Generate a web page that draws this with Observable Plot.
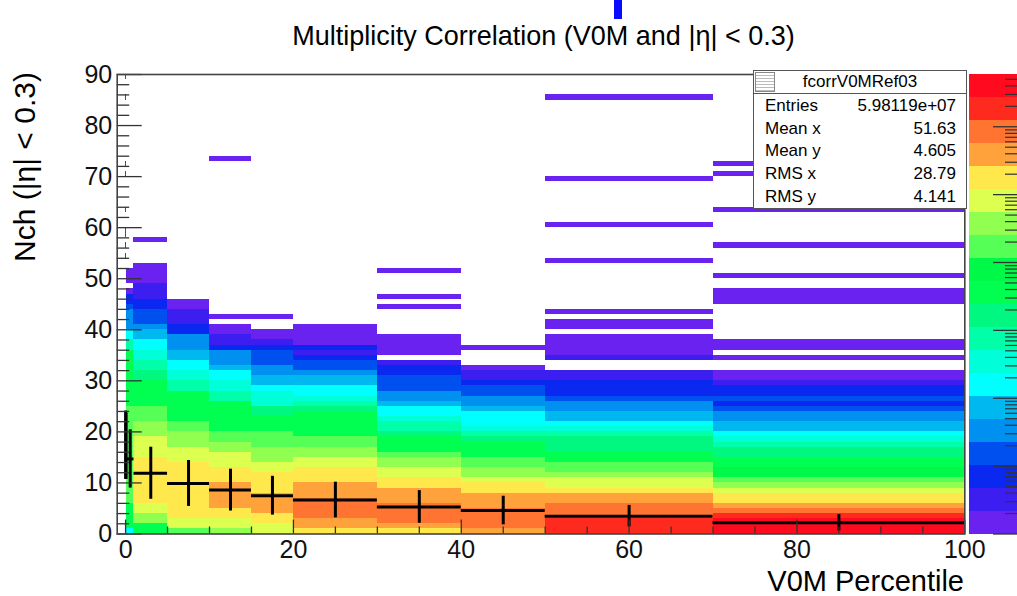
<!DOCTYPE html>
<html><head><meta charset="utf-8">
<script src="https://cdn.jsdelivr.net/npm/d3@7"></script>
<script src="https://cdn.jsdelivr.net/npm/@observablehq/plot@0.6"></script>
<style>
html,body{margin:0;padding:0;background:#fff;overflow:hidden;width:1017px;height:596px;}
#wrap{position:relative;width:1017px;height:596px;overflow:hidden;font-family:"Liberation Sans",Arial,Helvetica,sans-serif;color:#000;}
.abs{position:absolute;white-space:nowrap;}
#stats{position:absolute;left:753px;top:70px;width:212px;height:137px;border:1.5px solid #555;background:#fff;font-size:17px;}
#stats .hdr{position:absolute;left:0;top:0;width:212px;height:22px;border-bottom:1.5px solid #555;text-align:center;line-height:22px;}
#stats .row{position:absolute;left:11px;width:191px;height:22px;line-height:22px;}
#stats .row span{position:absolute;right:0;}
#icon{position:absolute;left:1px;top:1px;width:18px;height:18px;border:1px solid #888;background:repeating-linear-gradient(#fff 0 2px,#bbb 2px 3px);}
</style></head><body><div id="wrap"></div>
<script>
// ---------- data ----------
const xEdges = [0, 0.01, 0.1, 1, 5, 10, 15, 20, 30, 40, 50, 70, 100];
// colour level (0 = lowest / violet ... 19 = highest / red) per Nch bin, from Nch = 0 upward
const col_0_001   = [];
const col_001_01  = [];
const col_01_1    = [6,10,10,10,10,10,12,12,12,12,12,12,12,12,12,12,12,12,12,12,12,12,12,12,12,10,10,10,10,10,10,10,10,10,10,10,8,8,6,6,4,4,4,4,3,2,2,0,null,0,0,0];
const col_1_5     = [10,10,13,13,14,14,15,15,15,15,15,15,15,15,15,14,14,14,14,13,13,13,12,12,12,10,10,10,10,10,9,9,8,8,7,7,6,6,5,5,4,3,3,3,2,2,1,1,1,0,0,0,0];
const col_5_10    = [12,14,14,15,15,15,15,15,15,15,15,15,15,15,14,14,14,13,13,13,12,12,10,10,10,10,10,10,8,8,7,7,6,6,5,5,4,4,4,2,2,1,1,1,0,0];
const col_10_15   = [13,14,14,15,15,16,16,16,16,16,15,15,15,14,14,14,13,13,12,12,10,10,10,10,10,10,8,8,7,7,6,6,5,4,4,4,2,1,1,0,0];
const col_15_20   = [14,14,15,15,16,16,16,16,15,15,15,15,14,14,13,13,13,12,12,12,10,10,10,9,9,7,7,7,6,5,5,4,4,3,3,3,2,1,0,0];
const col_20_30   = [15,16,16,17,17,17,17,16,16,16,15,15,15,14,14,13,13,12,12,10,10,10,10,10,9,8,7,6,6,5,5,4,3,3,2,1,2,0,0,0,0];
const col_30_40   = [15,16,17,17,17,17,16,16,16,15,15,14,14,13,13,12,10,10,10,9,8,8,7,6,6,5,4,4,3,3,3,2,2,1,null,0,0,0,0];
const col_40_50   = [16,17,17,17,17,16,16,16,15,15,14,13,13,12,12,10,10,10,9,8,7,6,6,6,5,4,4,3,3,2,1,1,0];
const col_50_70   = [18,18,18,17,17,17,16,16,15,14,14,13,12,12,10,10,9,9,9,8,7,6,5,5,4,4,3,2,2,2,1,1,null,null,1,0,0,0,0];
const col_70_100  = [19,19,19,18,17,16,15,15,14,13,12,11,11,10,10,9,9,8,7,6,5,5,4,4,3,2,3,2,2,1,0,0,null,null,0,null,0,0];
// isolated single-entry bins (lowest level) above the bulk
const sparse_0_001  = [];
const sparse_001_01 = [54, 56, 58, 59, 63, 70, 72, 85, 89];
const sparse_01_1   = [];
const sparse_1_5    = [57];
const sparse_5_10   = [];
const sparse_10_15  = [42, 73];
const sparse_15_20  = [42];
const sparse_20_30  = [];
const sparse_30_40  = [44, 46, 51];
const sparse_40_50  = [36];
const sparse_50_70  = [40, 41, 43, 53, 60, 69, 85];
const sparse_70_100 = [45, 46, 47, 50, 56, 63, 70, 72];
// profile overlay (mean and spread per V0M bin)
const profMean = [17.4, 17.2, 14.7, 11.9, 9.9, 8.6, 7.5, 6.65, 5.3, 4.6, 3.5, 2.2];
const profRMS  = [6.7, 6.5, 5.7, 5.1, 4.5, 4.1, 3.8, 3.5, 3.2, 2.8, 2.1, 1.6];
const palette = ["#6a22f0","#3c1ef0","#0a28f0","#0050f0","#0090f0","#00b8f0","#00ffff","#00ffd8","#00ffa8","#00f880","#00ff50","#00f848","#55ff55","#90ff50","#dcff50","#ffe84c","#ffa23c","#ff7430","#ff2a1e","#ff0a1e"];
const yTickMajor = [0,10,20,30,40,50,60,70,80,90];
const xTickMajor = [0,20,40,60,80,100];
const statsRows = [["Entries","5.98119e+07"],["Mean x","51.63"],["Mean y","4.605"],["RMS x","28.79"],["RMS y","4.141"]];

// ---------- build ----------
const bodies = [col_0_001,col_001_01,col_01_1,col_1_5,col_5_10,col_10_15,col_15_20,col_20_30,col_30_40,col_40_50,col_50_70,col_70_100];
const sparses = [sparse_0_001,sparse_001_01,sparse_01_1,sparse_1_5,sparse_5_10,sparse_10_15,sparse_15_20,sparse_20_30,sparse_30_40,sparse_40_50,sparse_50_70,sparse_70_100];
const cells = [];
bodies.forEach((b, j) => {
  const lo = xEdges[j], hi = xEdges[j+1];
  b.forEach((lv, i) => { if (lv != null) cells.push({x1: lo, x2: hi, y1: i, y2: i + 1, lv}); });
  sparses[j].forEach(r => cells.push({x1: lo, x2: hi, y1: r, y2: r + 1, lv: 0}));
});
const prof = profMean.map((m, j) => ({lo: xEdges[j], hi: xEdges[j+1], c: (xEdges[j] + xEdges[j+1]) / 2, m, s: profRMS[j]}));

const W = 1017, H = 596;
const X0 = -1, X1 = 100, Y0 = 0, Y1 = 90;
const mL = 116.7, mR = W - 964.3, mT = 74, mB = H - 533.5;
const pxX = (W - mL - mR) / (X1 - X0), pxY = (H - mT - mB) / (Y1 - Y0);
const yMinor = d3.range(0, 91, 2).filter(v => v % 10 !== 0);
const xMinor = d3.range(0, 101, 5).filter(v => v % 20 !== 0);
const colorScale = {type: "ordinal", domain: d3.range(20), range: palette};

const main = Plot.plot({
  width: W, height: H, marginLeft: mL, marginRight: mR, marginTop: mT, marginBottom: mB,
  style: {fontFamily: "Liberation Sans, Arial, sans-serif", background: "transparent", overflow: "visible"},
  x: {domain: [X0, X1]}, y: {domain: [Y0, Y1]},
  color: colorScale,
  marks: [
    Plot.rect(cells, {x1: "x1", x2: "x2", y1: "y1", y2: "y2", fill: "lv", shapeRendering: "crispEdges"}),
    Plot.ruleY(prof, {x1: "lo", x2: "hi", y: "m", stroke: "#000", strokeWidth: 3}),
    Plot.ruleX(prof, {x: "c", y1: d => d.m - d.s, y2: d => d.m + d.s, stroke: "#000", strokeWidth: 3}),
    Plot.ruleY(yMinor, {y: d => d, x1: () => X0, x2: () => X0 + 12.5 / pxX, stroke: "#333", strokeWidth: 1.3}),
    Plot.ruleY(yTickMajor, {y: d => d, x1: () => X0, x2: () => X0 + 25 / pxX, stroke: "#333", strokeWidth: 1.3}),
    Plot.ruleX(xMinor, {x: d => d, y1: () => 0, y2: () => 7 / pxY, stroke: "#333", strokeWidth: 1.3}),
    Plot.ruleX(xTickMajor, {x: d => d, y1: () => 0, y2: () => 14 / pxY, stroke: "#333", strokeWidth: 1.3}),
    Plot.frame({stroke: "#444", strokeWidth: 1.6}),
    Plot.axisY(yTickMajor, {tickSize: 0, tickPadding: 5, fontSize: 25, label: null, fill: "#111", tickFormat: d => String(d)}),
    Plot.axisX(xTickMajor, {tickSize: 0, tickPadding: 6, fontSize: 25, label: null, fill: "#111", tickFormat: d => String(d)})
  ]
});

// colour bar (log z)
const zDec = 6.77, zMax = Math.pow(10, zDec);
const levels = d3.range(20).map(i => ({lv: i, z1: Math.pow(10, i * zDec / 20), z2: Math.pow(10, (i + 1) * zDec / 20)}));
const zMajor = d3.range(0, 7).map(k => Math.pow(10, k));
const zMinor = [];
d3.range(0, 7).forEach(k => d3.range(2, 10).forEach(m => { const v = m * Math.pow(10, k); if (v < zMax) zMinor.push(v); }));
const cbar = Plot.plot({
  width: 60, height: H, marginLeft: 0, marginRight: 12, marginTop: mT, marginBottom: mB,
  style: {background: "transparent", overflow: "visible"},
  x: {domain: [0, 1], axis: null}, y: {type: "log", domain: [1, zMax], axis: null},
  color: colorScale,
  marks: [
    Plot.rect(levels, {x1: () => 0, x2: () => 1, y1: "z1", y2: "z2", fill: "lv", shapeRendering: "crispEdges"}),
    Plot.ruleY(zMinor, {y: d => d, x1: () => 0.75, x2: () => 1, stroke: "#333", strokeWidth: 1.2}),
    Plot.ruleY(zMajor, {y: d => d, x1: () => 0.5, x2: () => 1, stroke: "#333", strokeWidth: 1.3})
  ]
});

const wrap = document.getElementById("wrap");
main.style.position = "absolute"; main.style.left = "0px"; main.style.top = "0px";
cbar.style.position = "absolute"; cbar.style.left = "969px"; cbar.style.top = "0px";
wrap.appendChild(main);
wrap.appendChild(cbar);

function addText(txt, css) {
  const d = document.createElement("div");
  d.className = "abs"; d.textContent = txt;
  Object.assign(d.style, css);
  wrap.appendChild(d);
  return d;
}
// blue fragment at the very top (part of a cut-off heading)
const frag = document.createElement("div");
Object.assign(frag.style, {position: "absolute", left: "614px", top: "0px", width: "8px", height: "19px", background: "#0a0aff"});
wrap.appendChild(frag);

addText("Multiplicity Correlation (V0M and |η| < 0.3)", {left: "0px", width: "1087px", textAlign: "center", top: "21px", fontSize: "27px", lineHeight: "30px", transform: "scaleY(1.05)"});
addText("Nch (|η| < 0.3)", {left: "25px", top: "167px", fontSize: "30px", lineHeight: "32px", transform: "translate(-50%,-50%) rotate(-90deg)"});
addText("V0M Percentile", {right: (W - 964) + "px", top: "568px", fontSize: "29px", lineHeight: "26px"});

// stats box
const st = document.createElement("div");
st.id = "stats";
const hdr = document.createElement("div"); hdr.className = "hdr"; hdr.textContent = "fcorrV0MRef03"; st.appendChild(hdr);
const ic = document.createElement("div"); ic.id = "icon"; st.appendChild(ic);
statsRows.forEach((r, i) => {
  const row = document.createElement("div"); row.className = "row"; row.style.top = (24 + i * 22.7) + "px";
  row.textContent = r[0];
  const v = document.createElement("span"); v.textContent = r[1]; row.appendChild(v);
  st.appendChild(row);
});
wrap.appendChild(st);
</script></body></html>
